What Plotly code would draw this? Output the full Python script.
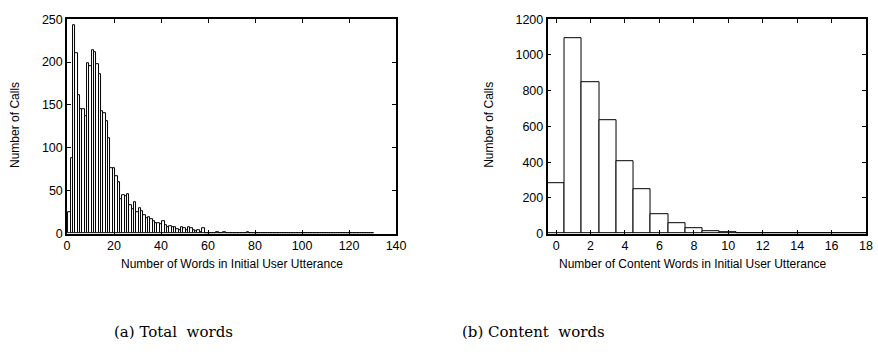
import plotly.graph_objects as go

# ---- data ----
total_words = list(range(1, 131))
total_calls = [25, 88, 243, 210, 161, 145, 145, 137, 199, 195,
               214, 212, 198, 186, 143, 140, 131, 111, 76, 76,
               67, 60, 40, 45, 44, 46, 33, 28, 37, 25,
               30, 26, 22, 18, 19, 17, 14, 12, 12, 11,
               15, 10, 7, 9, 8, 7, 5, 4, 7, 6,
               4, 7, 6, 4, 3, 4, 2, 6, 1, 1,
               0, 1, 1, 2, 1, 1, 2, 1, 1, 1,
               1, 1, 0, 1, 1, 1, 2, 1, 0, 1,
               1, 1, 0, 1, 0, 1, 1, 0, 0, 0,
               0, 1, 0, 0, 0, 0, 0, 0, 0, 0,
               1, 0, 0, 0, 0, 0, 1, 1, 0, 0,
               1, 0, 0, 1, 1, 0, 1, 0, 0, 1,
               0, 0, 0, 0, 0, 0, 0, 0, 0, 1]
content_words = list(range(0, 19))
content_calls = [280, 1095, 845, 635, 405, 248, 110, 60, 30, 15,
                 10, 5, 4, 2, 1, 1, 1, 1, 1]

left_xticks = [0, 20, 40, 60, 80, 100, 120, 140]
left_yticks = [0, 50, 100, 150, 200, 250]
right_xticks = [0, 2, 4, 6, 8, 10, 12, 14, 16, 18]
right_yticks = [0, 200, 400, 600, 800, 1000, 1200]

W, H = 878, 355
FONT = "Liberation Sans, Arial, Helvetica, sans-serif"
SERIF = "DejaVu Serif, Liberation Serif, serif"

def px(x):
    return x / W

def py(y):
    return 1 - y / H

fig = go.Figure()
bar_style = dict(marker=dict(color="white", line=dict(color="black", width=1)),
                 width=1, showlegend=False, hoverinfo="x+y")
fig.add_trace(go.Bar(x=total_words, y=total_calls, xaxis="x", yaxis="y", **bar_style))
fig.add_trace(go.Bar(x=content_words, y=content_calls, xaxis="x2", yaxis="y2", **bar_style))

axis_common = dict(showline=True, linecolor="black", linewidth=1.5, mirror="ticks",
                   ticks="inside", ticklen=4, tickcolor="black", tickwidth=1,
                   showgrid=False, zeroline=False, ticklabeloverflow="allow",
                   tickfont=dict(family=FONT, size=12.5, color="black"))

fig.update_layout(
    width=W, height=H,
    margin=dict(l=0, r=0, t=0, b=0),
    paper_bgcolor="white", plot_bgcolor="white",
    bargap=0,
    xaxis=dict(domain=[px(65), px(399)], range=[0, 140], tickvals=left_xticks,
               anchor="y", **axis_common),
    yaxis=dict(domain=[py(236), py(12.7)], range=[0, 250], tickvals=left_yticks,
               anchor="x", **axis_common),
    xaxis2=dict(domain=[px(552.7), px(876)], range=[-0.5, 18.0], tickvals=right_xticks,
                anchor="y2", **axis_common),
    yaxis2=dict(domain=[py(236), py(12.7)], range=[0, 1200], tickvals=right_yticks,
                anchor="x2", **axis_common),
)

ann_font = dict(family=FONT, size=12, color="black")
annotations = [
    dict(text="Number of Words in Initial User Utterance", x=px(232), y=py(268),
         xref="paper", yref="paper", showarrow=False, font=ann_font,
         xanchor="center", yanchor="middle"),
    dict(text="Number of Calls", x=px(12), y=py(123), textangle=-90,
         xref="paper", yref="paper", showarrow=False, font=ann_font,
         xanchor="center", yanchor="middle"),
    dict(text="Number of Content Words in Initial User Utterance", x=px(700), y=py(268),
         xref="paper", yref="paper", showarrow=False, font=ann_font,
         xanchor="center", yanchor="middle"),
    dict(text="Number of Calls", x=px(493), y=py(123), textangle=-90,
         xref="paper", yref="paper", showarrow=False, font=ann_font,
         xanchor="center", yanchor="middle"),
    dict(text="(a) Total&nbsp; words", x=px(173), y=py(338),
         xref="paper", yref="paper", showarrow=False,
         font=dict(family=SERIF, size=15, color="black"),
         xanchor="center", yanchor="middle"),
    dict(text="(b) Content&nbsp; words", x=px(538), y=py(338),
         xref="paper", yref="paper", showarrow=False,
         font=dict(family=SERIF, size=15, color="black"),
         xanchor="center", yanchor="middle"),
]
fig.update_layout(annotations=annotations)

fig.write_html(
    "out.html",
    config={"displayModeBar": False},
    post_script="document.body.style.margin='0';document.body.style.overflow='hidden';",
)
